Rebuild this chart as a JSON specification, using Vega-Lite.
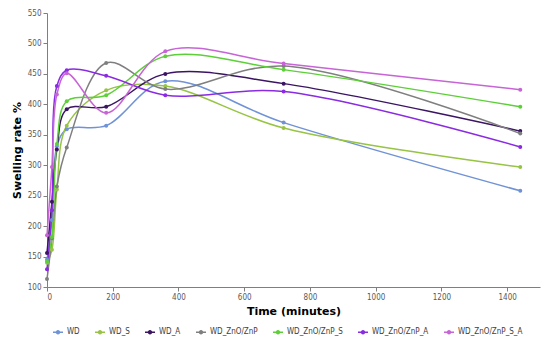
{
  "$schema": "https://vega.github.io/schema/vega-lite/v6.json",
  "autosize": {"type": "none"},
  "width": 493,
  "height": 274,
  "padding": {"left": 47, "top": 13, "right": 10, "bottom": 62},
  "background": "white",
  "config": {
    "font": "DejaVu Sans",
    "view": {"stroke": null},
    "axis": {"grid": false, "domainColor": "#7f7f7f", "tickColor": "#7f7f7f", "labelColor": "#595959", "labelFontSize": 8, "labelFont": "Liberation Sans Narrow, DejaVu Sans Condensed, DejaVu Sans", "tickSize": 4, "titleColor": "#000000", "titleFontWeight": "bold", "titleFontSize": 11}
  },
  "data": {
    "values": [
      {"t": 0, "s": "WD", "v": 145}, {"t": 15, "s": "WD", "v": 210}, {"t": 30, "s": "WD", "v": 331}, {"t": 60, "s": "WD", "v": 359}, {"t": 180, "s": "WD", "v": 365}, {"t": 360, "s": "WD", "v": 438}, {"t": 720, "s": "WD", "v": 370}, {"t": 1440, "s": "WD", "v": 258},
      {"t": 0, "s": "WD_S", "v": 140}, {"t": 15, "s": "WD_S", "v": 161}, {"t": 30, "s": "WD_S", "v": 260}, {"t": 60, "s": "WD_S", "v": 365}, {"t": 180, "s": "WD_S", "v": 423}, {"t": 360, "s": "WD_S", "v": 430}, {"t": 720, "s": "WD_S", "v": 361}, {"t": 1440, "s": "WD_S", "v": 297},
      {"t": 0, "s": "WD_A", "v": 156}, {"t": 15, "s": "WD_A", "v": 240}, {"t": 30, "s": "WD_A", "v": 326}, {"t": 60, "s": "WD_A", "v": 392}, {"t": 180, "s": "WD_A", "v": 396}, {"t": 360, "s": "WD_A", "v": 450}, {"t": 720, "s": "WD_A", "v": 434}, {"t": 1440, "s": "WD_A", "v": 356},
      {"t": 0, "s": "WD_ZnO/ZnP", "v": 113}, {"t": 15, "s": "WD_ZnO/ZnP", "v": 180}, {"t": 30, "s": "WD_ZnO/ZnP", "v": 265}, {"t": 60, "s": "WD_ZnO/ZnP", "v": 329}, {"t": 180, "s": "WD_ZnO/ZnP", "v": 468}, {"t": 360, "s": "WD_ZnO/ZnP", "v": 425}, {"t": 720, "s": "WD_ZnO/ZnP", "v": 463}, {"t": 1440, "s": "WD_ZnO/ZnP", "v": 352},
      {"t": 0, "s": "WD_ZnO/ZnP_S", "v": 142}, {"t": 15, "s": "WD_ZnO/ZnP_S", "v": 182}, {"t": 30, "s": "WD_ZnO/ZnP_S", "v": 335}, {"t": 60, "s": "WD_ZnO/ZnP_S", "v": 405}, {"t": 180, "s": "WD_ZnO/ZnP_S", "v": 415}, {"t": 360, "s": "WD_ZnO/ZnP_S", "v": 479}, {"t": 720, "s": "WD_ZnO/ZnP_S", "v": 457}, {"t": 1440, "s": "WD_ZnO/ZnP_S", "v": 396},
      {"t": 0, "s": "WD_ZnO/ZnP_A", "v": 129}, {"t": 15, "s": "WD_ZnO/ZnP_A", "v": 226}, {"t": 30, "s": "WD_ZnO/ZnP_A", "v": 430}, {"t": 60, "s": "WD_ZnO/ZnP_A", "v": 456}, {"t": 180, "s": "WD_ZnO/ZnP_A", "v": 447}, {"t": 360, "s": "WD_ZnO/ZnP_A", "v": 415}, {"t": 720, "s": "WD_ZnO/ZnP_A", "v": 421}, {"t": 1440, "s": "WD_ZnO/ZnP_A", "v": 330},
      {"t": 0, "s": "WD_ZnO/ZnP_S_A", "v": 185}, {"t": 15, "s": "WD_ZnO/ZnP_S_A", "v": 297}, {"t": 30, "s": "WD_ZnO/ZnP_S_A", "v": 416}, {"t": 60, "s": "WD_ZnO/ZnP_S_A", "v": 451}, {"t": 180, "s": "WD_ZnO/ZnP_S_A", "v": 386}, {"t": 360, "s": "WD_ZnO/ZnP_S_A", "v": 487}, {"t": 720, "s": "WD_ZnO/ZnP_S_A", "v": 467}, {"t": 1440, "s": "WD_ZnO/ZnP_S_A", "v": 424}
    ]
  },
  "encoding": {
    "x": {"field": "t", "type": "quantitative", "title": "Time (minutes)", "scale": {"domain": [0, 1500], "nice": false}, "axis": {"values": [0, 200, 400, 600, 800, 1000, 1200, 1400], "format": "d", "titlePadding": 4}},
    "y": {"field": "v", "type": "quantitative", "title": "Swelling rate  %", "scale": {"domain": [100, 550], "nice": false}, "axis": {"values": [100, 150, 200, 250, 300, 350, 400, 450, 500, 550], "titlePadding": 5}},
    "color": {
      "field": "s", "type": "nominal", "title": null,
      "scale": {"domain": ["WD", "WD_S", "WD_A", "WD_ZnO/ZnP", "WD_ZnO/ZnP_S", "WD_ZnO/ZnP_A", "WD_ZnO/ZnP_S_A"],
                "range": ["#7092d6", "#97c444", "#3b1462", "#7f7f7f", "#5dcf38", "#8a2be2", "#c764d6"]},
      "legend": {"orient": "none", "legendX": 5, "legendY": 313, "direction": "horizontal", "columns": 7, "labelFontSize": 8, "labelFont": "Liberation Sans Narrow, DejaVu Sans Condensed, DejaVu Sans", "labelColor": "#404040", "labelOffset": 3, "symbolType": "M-1,0L1,0M-0.3,0a0.3,0.3 0 1,0 0.6,0a0.3,0.3 0 1,0 -0.6,0", "symbolSize": 100, "symbolStrokeWidth": 1.5, "columnPadding": 12}
    }
  },
  "layer": [
    {"mark": {"type": "line", "interpolate": "catmull-rom", "strokeWidth": 1.5}},
    {"mark": {"type": "circle", "size": 16, "opacity": 1}}
  ]
}
